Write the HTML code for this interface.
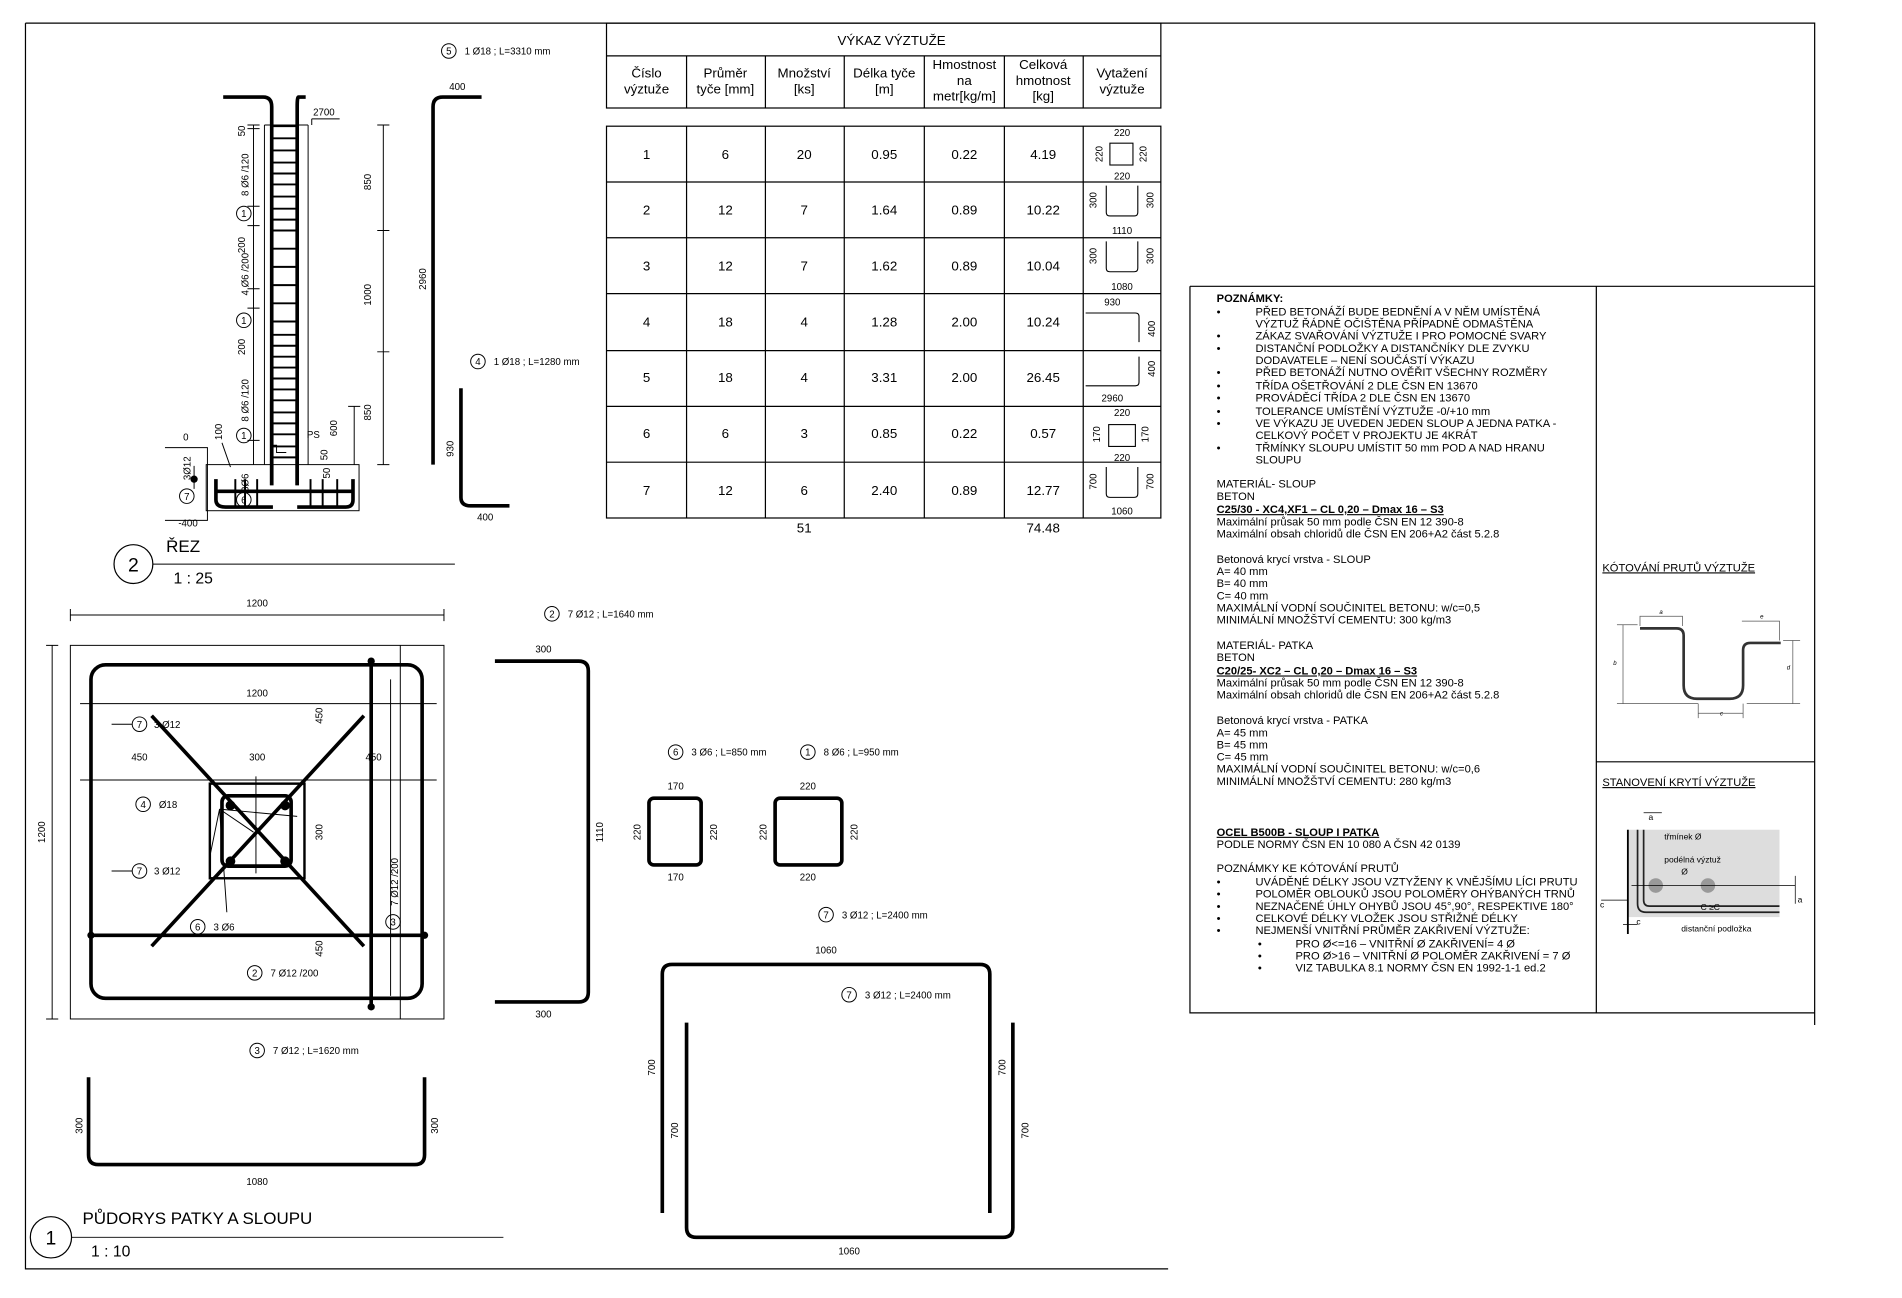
<!DOCTYPE html>
<html><head><meta charset="utf-8"><style>
html,body{margin:0;padding:0;background:#fff}
svg{display:block}
text{font-family:"Liberation Sans",sans-serif;fill:#000}
.s{font-size:8px}.t{font-size:11px}.n{font-size:9.2px}
</style></head><body>
<svg width="1902" height="1298" viewBox="0 0 1568 1070" xmlns="http://www.w3.org/2000/svg">
<g fill="none" stroke="#000" stroke-width="1">
<path d="M21 19V1046H963M21 19H1496V845"/>
<rect x="500" y="19" width="457" height="70"/><path d="M500 46H957"/>
<rect x="500" y="104" width="457" height="323"/>
<path d="M566 46V89M631 46V89M696 46V89M762 46V89M828 46V89M893 46V89M566 104V427M631 104V427M696 104V427M762 104V427M828 104V427M893 104V427"/>
<path d="M500 150H957M500 196H957M500 242H957M500 289H957M500 335H957M500 381H957"/>
<path d="M981 236H1496M981 236V835H1496M1316 236V835M1316 628H1496"/>
</g>
<g class="t" text-anchor="middle">
<text x="735" y="37">VÝKAZ VÝZTUŽE</text>
<text x="533" y="64">Číslo</text><text x="533" y="77">výztuže</text>
<text x="598" y="64">Průměr</text><text x="598" y="77">tyče [mm]</text>
<text x="663" y="64">Množství</text><text x="663" y="77">[ks]</text>
<text x="729" y="64">Délka tyče</text><text x="729" y="77">[m]</text>
<text x="795" y="57">Hmostnost</text><text x="795" y="70">na</text><text x="795" y="83">metr[kg/m]</text>
<text x="860" y="57">Celková</text><text x="860" y="70">hmotnost</text><text x="860" y="83">[kg]</text>
<text x="925" y="64">Vytažení</text><text x="925" y="77">výztuže</text>
<text x="533" y="131">1</text><text x="598" y="131">6</text><text x="663" y="131">20</text><text x="729" y="131">0.95</text><text x="795" y="131">0.22</text><text x="860" y="131">4.19</text>
<text x="533" y="177">2</text><text x="598" y="177">12</text><text x="663" y="177">7</text><text x="729" y="177">1.64</text><text x="795" y="177">0.89</text><text x="860" y="177">10.22</text>
<text x="533" y="223">3</text><text x="598" y="223">12</text><text x="663" y="223">7</text><text x="729" y="223">1.62</text><text x="795" y="223">0.89</text><text x="860" y="223">10.04</text>
<text x="533" y="269">4</text><text x="598" y="269">18</text><text x="663" y="269">4</text><text x="729" y="269">1.28</text><text x="795" y="269">2.00</text><text x="860" y="269">10.24</text>
<text x="533" y="315">5</text><text x="598" y="315">18</text><text x="663" y="315">4</text><text x="729" y="315">3.31</text><text x="795" y="315">2.00</text><text x="860" y="315">26.45</text>
<text x="533" y="361">6</text><text x="598" y="361">6</text><text x="663" y="361">3</text><text x="729" y="361">0.85</text><text x="795" y="361">0.22</text><text x="860" y="361">0.57</text>
<text x="533" y="408">7</text><text x="598" y="408">12</text><text x="663" y="408">6</text><text x="729" y="408">2.40</text><text x="795" y="408">0.89</text><text x="860" y="408">12.77</text>
<text x="663" y="439">51</text><text x="860" y="439">74.48</text>
</g>
<g fill="none" stroke="#000" stroke-width="0.9">
<rect x="915" y="118" width="19" height="18"/>
<path d="M912 153V175Q912 178 915 178H935Q938 178 938 175V153"/>
<path d="M912 199V221Q912 224 915 224H935Q938 224 938 221V199"/>
<path d="M895 258H936Q939 258 939 261V282"/>
<path d="M939 294V315Q939 318 936 318H895"/>
<rect x="914" y="350" width="22" height="18"/>
<path d="M912 385V407Q912 410 915 410H935Q938 410 938 407V385"/>
</g>
<g class="s" text-anchor="middle">
<text x="925" y="112">220</text><text x="925" y="148">220</text>
<text x="925" y="193">1110</text><text x="925" y="239">1080</text>
<text x="917" y="252">930</text><text x="917" y="331">2960</text>
<text x="925" y="343">220</text><text x="925" y="380">220</text>
<text x="925" y="424">1060</text>
<text transform="translate(909 127) rotate(-90)">220</text><text transform="translate(945 127) rotate(-90)">220</text>
<text transform="translate(904 165) rotate(-90)">300</text><text transform="translate(951 165) rotate(-90)">300</text>
<text transform="translate(904 211) rotate(-90)">300</text><text transform="translate(951 211) rotate(-90)">300</text>
<text transform="translate(952 271) rotate(-90)">400</text><text transform="translate(952 304) rotate(-90)">400</text>
<text transform="translate(907 358) rotate(-90)">170</text><text transform="translate(947 358) rotate(-90)">170</text>
<text transform="translate(904 397) rotate(-90)">700</text><text transform="translate(951 397) rotate(-90)">700</text>
</g>

<g fill="none" stroke="#000">
<g stroke-width="3">
<path d="M184 80H217Q224 80 224 88V400"/>
<path d="M252 80H246Q245 80 245 88V400"/>
<path d="M357 383V88Q357 80 365 80H397"/>
<path d="M380 320V410Q380 417 388 417H420"/>
<path d="M224 330V400M245 330V400"/>
<path d="M178 395V412Q178 418 186 418H225M245 418H285Q291 418 291 412V395"/>
<path d="M178 405H290"/>
</g>
<g stroke-width="1.6">
<path d="M224 104H245M224 114H245M224 124H245M224 134H245M224 143H245M224 152H245M224 162H245M224 172H245M224 181H245M224 190H245M224 205H245M224 220H245M224 235H245M224 250H245M224 265H245M224 276H245M224 285H245M224 294H245M224 303H245M224 312H245M224 321H245M224 330H245M224 340H245M224 349H245M224 358H245M224 368H245M224 377H245"/>
<path d="M194 395V418M202 395V418M212 395V418M256 395V418M266 395V418M278 395V418"/>
</g>
<g stroke-width="0.8">
<path d="M218 103V383M254 103V383M218 103H254M257 98V103M257 98H280"/>
<rect x="170" y="383" width="126" height="38"/>
<path d="M316 103V383M311 103H321M311 190H321M311 290H321M311 383H321"/>
<path d="M292 335V383M287 335H297"/>
<path d="M209 103V383M204 103H214M204 106H214M204 170H214M204 186H214M204 238H214M204 254H214M204 363H214"/>
<path d="M136 369H171V429H136M160 384V403"/>
<path d="M223 367H228V373H236M183 365L190 385"/>
<path d="M126 465H375M59 1020H415"/>
</g>
<circle cx="110" cy="465" r="16" stroke-width="1"/>
<circle cx="42" cy="1020" r="17" stroke-width="1"/>
</g>
<circle cx="160" cy="395" r="3"/>
<g class="s">
<text x="267" y="95" text-anchor="middle">2700</text>
<text x="377" y="74" text-anchor="middle">400</text>
<text x="400" y="429" text-anchor="middle">400</text>
<text x="151" y="363">0</text><text x="147" y="434">-400</text>
<text x="253" y="361">PS</text>
<g text-anchor="middle">
<text transform="translate(306 150) rotate(-90)">850</text>
<text transform="translate(306 243) rotate(-90)">1000</text>
<text transform="translate(306 340) rotate(-90)">850</text>
<text transform="translate(351 230) rotate(-90)">2960</text>
<text transform="translate(374 370) rotate(-90)">930</text>
<text transform="translate(278 353) rotate(-90)">600</text>
<text transform="translate(270 375) rotate(-90)">50</text>
<text transform="translate(272 390) rotate(-90)">50</text>
<text transform="translate(202 108) rotate(-90)">50</text>
<text transform="translate(205 144) rotate(-90)">8 Ø6 /120</text>
<text transform="translate(202 202) rotate(-90)">200</text>
<text transform="translate(205 226) rotate(-90)">4 Ø6 /200</text>
<text transform="translate(202 286) rotate(-90)">200</text>
<text transform="translate(205 330) rotate(-90)">8 Ø6 /120</text>
<text transform="translate(183 356) rotate(-90)">100</text>
<text transform="translate(157 386) rotate(-90)">3Ø12</text>
<text transform="translate(205 398) rotate(-90)">3Ø6</text>
</g>
</g>
<g fill="none" stroke="#000" stroke-width="0.8">
<circle cx="201" cy="176" r="6"/><circle cx="201" cy="264" r="6"/><circle cx="201" cy="359" r="6"/>
<circle cx="154" cy="409" r="6"/><circle cx="201" cy="412" r="6"/>
<circle cx="370" cy="42" r="6"/><circle cx="394" cy="298" r="6"/>
<circle cx="455" cy="506" r="6"/><circle cx="557" cy="620" r="6"/><circle cx="666" cy="620" r="6"/>
<circle cx="681" cy="754" r="6"/><circle cx="700" cy="820" r="6"/><circle cx="212" cy="866" r="6"/>
<circle cx="115" cy="597" r="6"/><circle cx="118" cy="663" r="6"/><circle cx="115" cy="718" r="6"/>
<circle cx="163" cy="764" r="6"/><circle cx="210" cy="802" r="6"/><circle cx="324" cy="760" r="6"/>
</g>
<g class="s" text-anchor="middle">
<text x="201" y="179">1</text><text x="201" y="267">1</text><text x="201" y="362">1</text><text x="154" y="412">7</text><text x="201" y="415">6</text>
<text x="370" y="45">5</text><text x="394" y="301">4</text><text x="455" y="509">2</text><text x="557" y="623">6</text><text x="666" y="623">1</text>
<text x="681" y="757">7</text><text x="700" y="823">7</text><text x="212" y="869">3</text><text x="115" y="600">7</text><text x="118" y="666">4</text>
<text x="115" y="721">7</text><text x="163" y="767">6</text><text x="210" y="805">2</text><text x="324" y="763">3</text>
</g>
<g class="s">
<text x="383" y="45">1 Ø18 ; L=3310 mm</text>
<text x="407" y="301">1 Ø18 ; L=1280 mm</text>
<text x="468" y="509">7 Ø12 ; L=1640 mm</text>
<text x="570" y="623">3 Ø6 ; L=850 mm</text>
<text x="679" y="623">8 Ø6 ; L=950 mm</text>
<text x="694" y="757">3 Ø12 ; L=2400 mm</text>
<text x="713" y="823">3 Ø12 ; L=2400 mm</text>
<text x="225" y="869">7 Ø12 ; L=1620 mm</text>
<text x="127" y="600">3 Ø12</text><text x="131" y="666">Ø18</text><text x="127" y="721">3 Ø12</text>
<text x="176" y="767">3 Ø6</text><text x="223" y="805">7 Ø12 /200</text>
</g>
<text x="137" y="455" style="font-size:14px">ŘEZ</text>
<text x="110" y="471" text-anchor="middle" style="font-size:16px">2</text>
<text x="143" y="481" style="font-size:13px">1 : 25</text>
<text x="68" y="1009" style="font-size:14px">PŮDORYS PATKY A SLOUPU</text>
<text x="42" y="1026" text-anchor="middle" style="font-size:16px">1</text>
<text x="75" y="1036" style="font-size:13px">1 : 10</text>

<g fill="none" stroke="#000">
<g stroke-width="0.8">
<rect x="58" y="532" width="308" height="308"/>
<path d="M58 507H366M58 502V512M366 502V512M43 532V840M38 532H48M38 840H48"/>
<path d="M66 580H360M66 643H360M211 640V720M306 640V720M322 560V821"/>
<path d="M330 532V840M330 673V709"/>
<path d="M92 597H109M92 718H109"/>
<path d="M181 667L209 686M181 667L173 706M181 667L187 752M181 667L245 673"/>
</g>
<g stroke-width="3">
<rect x="75" y="548" width="273" height="275" rx="12"/>
<rect x="173" y="646" width="78" height="78" stroke-width="2"/>
<rect x="183" y="656" width="57" height="58" rx="5"/>
<path d="M125 590L300 780M300 590L125 780M75 771H350M306 545V830"/>
</g>
</g>
<g>
<circle cx="190" cy="664" r="4"/><circle cx="235" cy="664" r="4"/><circle cx="190" cy="710" r="4"/><circle cx="235" cy="710" r="4"/>
<circle cx="306" cy="545" r="3"/><circle cx="306" cy="830" r="3"/><circle cx="75" cy="771" r="3"/><circle cx="350" cy="771" r="3"/>
</g>
<g class="s" text-anchor="middle">
<text x="212" y="500">1200</text><text x="212" y="574">1200</text>
<text x="115" y="627">450</text><text x="212" y="627">300</text><text x="308" y="627">450</text>
<text transform="translate(266 590) rotate(-90)">450</text>
<text transform="translate(266 686) rotate(-90)">300</text>
<text transform="translate(266 782) rotate(-90)">450</text>
<text transform="translate(328 727) rotate(-90)">7 Ø12 /200</text>
<text transform="translate(37 686) rotate(-90)">1200</text>
<text transform="translate(68 928) rotate(-90)">300</text>
<text transform="translate(361 928) rotate(-90)">300</text>
<text x="212" y="977">1080</text>
<text x="448" y="538">300</text><text x="448" y="839">300</text>
<text transform="translate(497 686) rotate(-90)">1110</text>
<text x="557" y="651">170</text><text x="557" y="726">170</text>
<text transform="translate(528 686) rotate(-90)">220</text><text transform="translate(591 686) rotate(-90)">220</text>
<text x="666" y="651">220</text><text x="666" y="726">220</text>
<text transform="translate(632 686) rotate(-90)">220</text><text transform="translate(707 686) rotate(-90)">220</text>
<text x="681" y="786">1060</text><text x="700" y="1034">1060</text>
<text transform="translate(540 880) rotate(-90)">700</text>
<text transform="translate(559 932) rotate(-90)">700</text>
<text transform="translate(829 880) rotate(-90)">700</text>
<text transform="translate(848 932) rotate(-90)">700</text>
</g>
<g fill="none" stroke="#000" stroke-width="3">
<path d="M73 888V952Q73 960 81 960H342Q350 960 350 952V888"/>
<path d="M408 545H477Q485 545 485 553V818Q485 826 477 826H408"/>
<rect x="535" y="658" width="43" height="55" rx="4"/>
<rect x="639" y="658" width="55" height="55" rx="4"/>
<path d="M546 1000V803Q546 795 554 795H808Q816 795 816 803V1000"/>
<path d="M566 843V1012Q566 1020 574 1020H827Q835 1020 835 1012V843"/>
</g>

<g class="n">
<text x="1003" y="249" font-weight="bold">POZNÁMKY:</text>
<text x="1003" y="260">•</text><text x="1035" y="260">PŘED BETONÁŽÍ BUDE BEDNĚNÍ A V NĚM UMÍSTĚNÁ</text>
<text x="1035" y="270">VÝZTUŽ ŘÁDNĚ OČIŠTĚNA PŘÍPADNĚ ODMAŠTĚNA</text>
<text x="1003" y="280">•</text><text x="1035" y="280">ZÁKAZ SVAŘOVÁNÍ VÝZTUŽE I PRO POMOCNÉ SVARY</text>
<text x="1003" y="290">•</text><text x="1035" y="290">DISTANČNÍ PODLOŽKY A DISTANČNÍKY DLE ZVYKU</text>
<text x="1035" y="300">DODAVATELE – NENÍ SOUČÁSTÍ VÝKAZU</text>
<text x="1003" y="310">•</text><text x="1035" y="310">PŘED BETONÁŽÍ NUTNO OVĚŘIT VŠECHNY ROZMĚRY</text>
<text x="1003" y="321">•</text><text x="1035" y="321">TŘÍDA OŠETŘOVÁNÍ 2 DLE ČSN EN 13670</text>
<text x="1003" y="331">•</text><text x="1035" y="331">PROVÁDĚCÍ TŘÍDA 2 DLE ČSN EN 13670</text>
<text x="1003" y="342">•</text><text x="1035" y="342">TOLERANCE UMÍSTĚNÍ VÝZTUŽE -0/+10 mm</text>
<text x="1003" y="352">•</text><text x="1035" y="352">VE VÝKAZU JE UVEDEN JEDEN SLOUP A JEDNA PATKA -</text>
<text x="1035" y="362">CELKOVÝ POČET V PROJEKTU JE 4KRÁT</text>
<text x="1003" y="372">•</text><text x="1035" y="372">TŘMÍNKY SLOUPU UMÍSTIT 50 mm POD A NAD HRANU</text>
<text x="1035" y="382">SLOUPU</text>
<text x="1003" y="402">MATERIÁL- SLOUP</text>
<text x="1003" y="412">BETON</text>
<text x="1003" y="423" font-weight="bold" text-decoration="underline">C25/30 - XC4,XF1 – CL 0,20 – Dmax 16 – S3</text>
<text x="1003" y="433">Maximální průsak 50 mm podle ČSN EN 12 390-8</text>
<text x="1003" y="443">Maximální obsah chloridů dle ČSN EN 206+A2 část 5.2.8</text>
<text x="1003" y="464">Betonová krycí vrstva - SLOUP</text>
<text x="1003" y="474">A= 40 mm</text><text x="1003" y="484">B= 40 mm</text><text x="1003" y="494">C= 40 mm</text>
<text x="1003" y="504">MAXIMÁLNÍ VODNÍ SOUČINITEL BETONU: w/c=0,5</text>
<text x="1003" y="514">MINIMÁLNÍ MNOŽŠTVÍ CEMENTU: 300 kg/m3</text>
<text x="1003" y="535">MATERIÁL- PATKA</text>
<text x="1003" y="545">BETON</text>
<text x="1003" y="556" font-weight="bold" text-decoration="underline">C20/25- XC2 – CL 0,20 – Dmax 16 – S3</text>
<text x="1003" y="566">Maximální průsak 50 mm podle ČSN EN 12 390-8</text>
<text x="1003" y="576">Maximální obsah chloridů dle ČSN EN 206+A2 část 5.2.8</text>
<text x="1003" y="597">Betonová krycí vrstva - PATKA</text>
<text x="1003" y="607">A= 45 mm</text><text x="1003" y="617">B= 45 mm</text><text x="1003" y="627">C= 45 mm</text>
<text x="1003" y="637">MAXIMÁLNÍ VODNÍ SOUČINITEL BETONU: w/c=0,6</text>
<text x="1003" y="647">MINIMÁLNÍ MNOŽŠTVÍ CEMENTU: 280 kg/m3</text>
<text x="1003" y="689" font-weight="bold" text-decoration="underline">OCEL B500B - SLOUP I PATKA</text>
<text x="1003" y="699">PODLE NORMY ČSN EN 10 080 A ČSN 42 0139</text>
<text x="1003" y="719">POZNÁMKY KE KÓTOVÁNÍ PRUTŮ</text>
<text x="1003" y="730">•</text><text x="1035" y="730">UVÁDĚNÉ DÉLKY JSOU VZTYŽENY K VNĚJŠÍMU LÍCI PRUTU</text>
<text x="1003" y="740">•</text><text x="1035" y="740">POLOMĚR OBLOUKŮ JSOU POLOMĚRY OHÝBANÝCH TRNŮ</text>
<text x="1003" y="750">•</text><text x="1035" y="750">NEZNAČENÉ ÚHLY OHYBŮ JSOU 45°,90°, RESPEKTIVE 180°</text>
<text x="1003" y="760">•</text><text x="1035" y="760">CELKOVÉ DÉLKY VLOŽEK JSOU STŘIŽNÉ DÉLKY</text>
<text x="1003" y="770">•</text><text x="1035" y="770">NEJMENŠÍ VNITŘNÍ PRŮMĚR ZAKŘIVENÍ VÝZTUŽE:</text>
<text x="1037" y="781">•</text><text x="1068" y="781">PRO Ø&lt;=16 – VNITŘNÍ Ø ZAKŘIVENÍ= 4 Ø</text>
<text x="1037" y="791">•</text><text x="1068" y="791">PRO Ø&gt;16 – VNITŘNÍ Ø POLOMĚR ZAKŘIVENÍ = 7 Ø</text>
<text x="1037" y="801">•</text><text x="1068" y="801">VIZ TABULKA 8.1 NORMY ČSN EN 1992-1-1 ed.2</text>
<text x="1321" y="471" text-decoration="underline">KÓTOVÁNÍ PRUTŮ VÝZTUŽE</text>
<text x="1321" y="648" text-decoration="underline">STANOVENÍ KRYTÍ VÝZTUŽE</text>
</g>
<g fill="none" stroke="#555" stroke-width="0.6">
<path d="M1352 518H1382Q1388 518 1388 524V565Q1388 576 1399 576H1426Q1437 576 1437 565V536Q1437 530 1443 530H1468" stroke="#333" stroke-width="2.2"/>
<path d="M1352 516V508H1387V516M1436 512H1467V528M1338 515V580M1333 515H1350M1333 580H1400M1478 528V580M1470 528H1484M1440 580H1484M1400 580V592M1437 580V592M1400 588H1437"/>
</g>
<g font-size="5" font-style="italic" fill="#444"><text x="1368" y="506">a</text><text x="1451" y="510">e</text><text x="1330" y="548">b</text><text x="1473" y="552">d</text><text x="1418" y="590">c</text></g>
<g>
<rect x="1342" y="684" width="125" height="72" fill="#ddd"/>
<path d="M1342 684V770" stroke="#000" stroke-width="1.5"/>
<path d="M1350 684V745Q1350 752 1357 752H1467M1355 684V742Q1355 747 1360 747H1467" stroke="#222" stroke-width="1.4" fill="none"/>
<circle cx="1365" cy="730" r="6" fill="#999"/><circle cx="1408" cy="730" r="6" fill="#999"/>
<path d="M1345 730H1480M1480 722V745" stroke="#000" stroke-width="0.6" fill="none"/>
<path d="M1355 670H1370M1320 742H1342M1338 762H1350" stroke="#000" stroke-width="0.6"/>
<g font-size="7" fill="#333"><text x="1372" y="692">třmínek Ø</text><text x="1372" y="711">podélná výztuž</text><text x="1386" y="721">Ø</text><text x="1402" y="750">C ≥C</text><text x="1386" y="768">distanční podložka</text><text x="1359" y="676">a</text><text x="1319" y="748">c</text><text x="1349" y="762">c</text><text x="1482" y="744">a</text></g>
</g>
</svg>
</body></html>
